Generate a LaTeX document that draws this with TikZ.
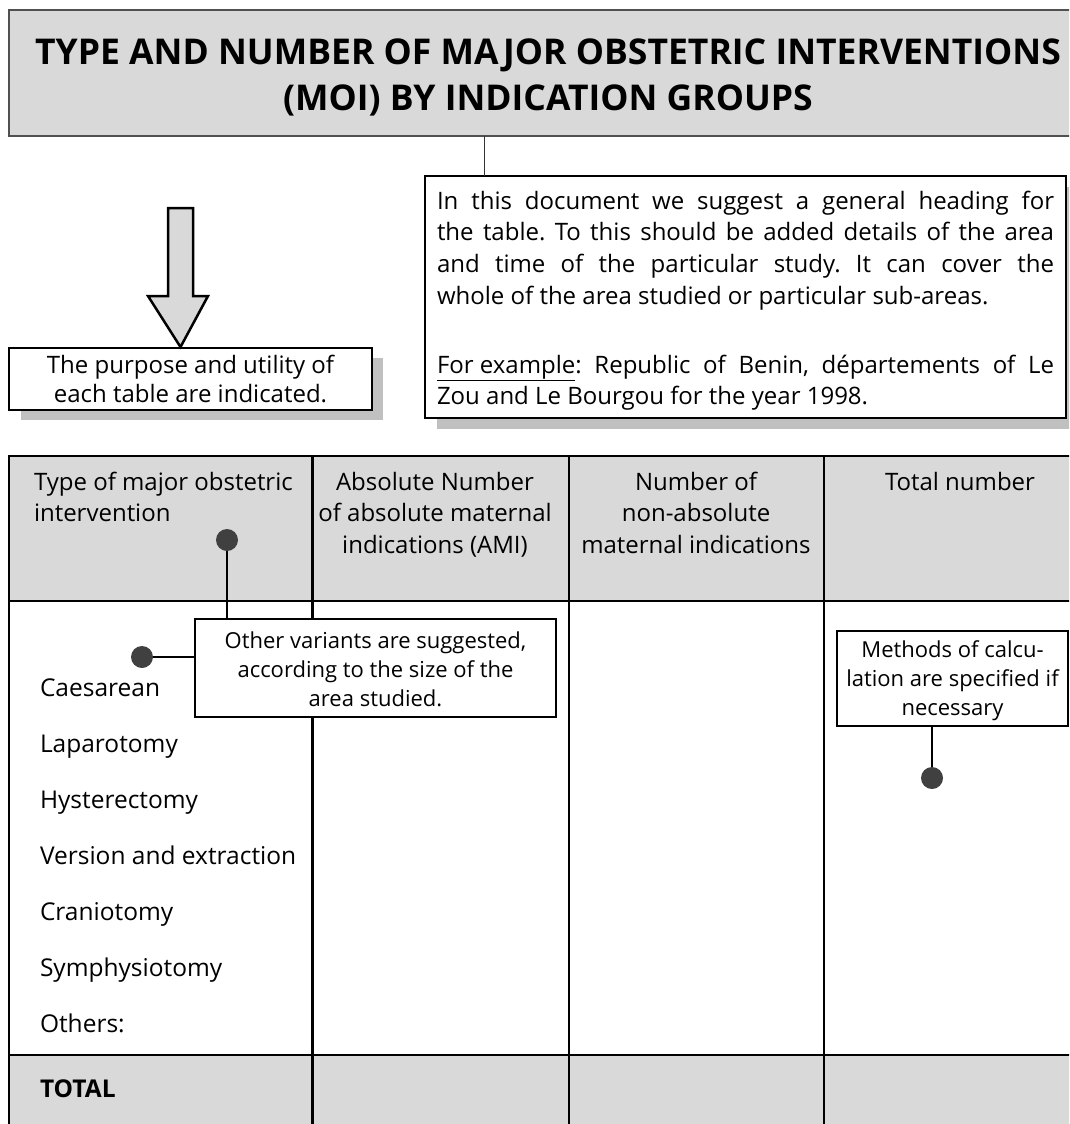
\documentclass[tikz,border=0pt]{standalone}
\usepackage{fontspec}
\setmainfont{Open Sans}
\frenchspacing
\definecolor{hdr}{HTML}{D9D9D9}
\definecolor{shadowc}{HTML}{C0C0C0}
\definecolor{dotc}{HTML}{404040}
\definecolor{frame}{HTML}{505050}
\newcommand\mylines[2]{\begin{tabular}[t]{@{}#1@{}}#2\end{tabular}}
\begin{document}
\begin{tikzpicture}[x=1pt,y=-1pt,
  titlebox/.style={draw=frame,fill=hdr,line width=1.5pt,rectangle,inner sep=0,outer sep=0,anchor=north west},
  infobox/.style={draw=black,fill=white,line width=2.5pt,rectangle,inner sep=0,outer sep=0,anchor=north west},
  shadowbox/.style={fill=shadowc},
  txt/.style={inner sep=0,outer sep=0,anchor=base},
  txtl/.style={inner sep=0,outer sep=0,anchor=base west},
  dot/.style={circle,fill=dotc,inner sep=0,minimum size=22pt},
  conn/.style={line width=2.5pt},
  thin/.style={line width=1pt,draw=black!80},
  grid/.style={line width=2.5pt},
  blockarrow/.style={draw=black,fill=hdr,line width=2.5pt,line join=miter},
  titlefont/.style={font=\fontsize{35.5}{46}\selectfont\bfseries},
  bodyfont/.style={font=\fontsize{24}{31.8}\selectfont},
  calloutfont/.style={font=\fontsize{22}{29}\selectfont},
  purposefont/.style={font=\fontsize{24}{29}\selectfont},
  hdrfont/.style={font=\fontsize{24}{31.7}\selectfont},
  cellfont/.style={font=\fontsize{24.5}{30}\selectfont}
]
\useasboundingbox (0,0) rectangle (1069,1124);
\begin{scope}
\clip (0,0) rectangle (1069,1124);

% title
\node[titlebox,minimum width=1100pt,minimum height=126pt] (title) at (9,10) {};
\node[txt,titlefont] (titletext) at (548,64) {\mylines{c}{TYPE AND NUMBER OF MAJOR OBSTETRIC INTERVENTIONS\\(MOI) BY INDICATION GROUPS}};

% description box
\fill[shadowbox] (437,187) rectangle (1078,429);
\node[infobox,minimum width=641pt,minimum height=242pt] (desc) at (425,176) {};
\node[txtl,bodyfont] (desctext) at (437,209) {\mylines{l}{%
\makebox[617pt][s]{In this document we suggest a general heading for}\\
\makebox[617pt][s]{the table. To this should be added details of the area}\\
\makebox[617pt][s]{and time of the particular study. It can cover the}\\
whole of the area studied or particular sub-areas.\\[5pt]
\\
\makebox[617pt][s]{\underline{For example}: Republic of Benin, départements of Le}\\
Zou and Le Bourgou for the year 1998.}};
\coordinate (c1) at (484,136);
\draw[thin] (c1) -- (c1 |- desc.north);

% purpose box and arrow
\fill[shadowbox] (21,358) rectangle (383,420);
\node[infobox,minimum width=363pt,minimum height=62pt] (purpose) at (9,348) {};
\node[txt,purposefont] (purposetext) at (190.5,373) {\mylines{c}{The purpose and utility of\\ each table are indicated.}};
\draw[blockarrow] (168,208) -- (193,208) -- (193,296) -- (208,296) -- (180.5,347) -- (148,296) -- (168,296) -- cycle;

% table
\fill[hdr] (9,456) rectangle (1110,601);
\fill[hdr] (9,1055) rectangle (1110,1140);
\draw[grid] (9,1140) -- (9,456) -- (1110,456);
\draw[grid] (9,601) -- (1110,601);
\draw[grid] (9,1055) -- (1110,1055);
\draw[grid] (312.5,456) -- (312.5,1140);
\draw[grid] (569,456) -- (569,1140);
\draw[grid] (824,456) -- (824,1140);

% header texts
\node[txtl,hdrfont] (h1) at (34,490) {\mylines{l}{Type of major obstetric\\intervention}};
\node[txt,hdrfont] (h2) at (435,490) {\mylines{c}{Absolute Number\\of absolute maternal\\indications (AMI)}};
\node[txt,hdrfont] (h3) at (696,490) {\mylines{c}{Number of\\non-absolute\\maternal indications}};
\node[txt,hdrfont] (h4) at (960,490) {Total number};

% body texts
\node[txtl,cellfont] (r1) at (40,696) {Caesarean};
\node[txtl,cellfont] (r2) at (40,752) {Laparotomy};
\node[txtl,cellfont] (r3) at (40,808) {Hysterectomy};
\node[txtl,cellfont] (r4) at (40,864) {Version and extraction};
\node[txtl,cellfont] (r5) at (40,920) {Craniotomy};
\node[txtl,cellfont] (r6) at (40,976) {Symphysiotomy};
\node[txtl,cellfont] (r7) at (40,1032) {Others:};
\node[txtl,cellfont] (tot) at (40,1097) {\bfseries TOTAL};

% callout: other variants
\node[infobox,minimum width=361pt,minimum height=98pt] (other) at (195,619) {};
\node[txt,calloutfont] (othertext) at (375.5,648) {\mylines{c}{Other variants are suggested,\\according to the size of the\\area studied.}};
\node[dot] (d1) at (227,540) {};
\node[dot] (d2) at (142,657) {};
\draw[conn] (d1) -- (d1 |- other.north);
\draw[conn] (d2) -- (d2 -| other.west);

% callout: methods
\node[infobox,minimum width=231pt,minimum height=95pt] (methods) at (837,631) {};
\node[txt,calloutfont] (methodstext) at (952.5,657) {\mylines{c}{Methods of calcu-\\lation are specified if\\necessary}};
\node[dot] (d3) at (932,778) {};
\draw[conn] (d3) -- (d3 |- methods.south);
\end{scope}
\end{tikzpicture}
\end{document}
